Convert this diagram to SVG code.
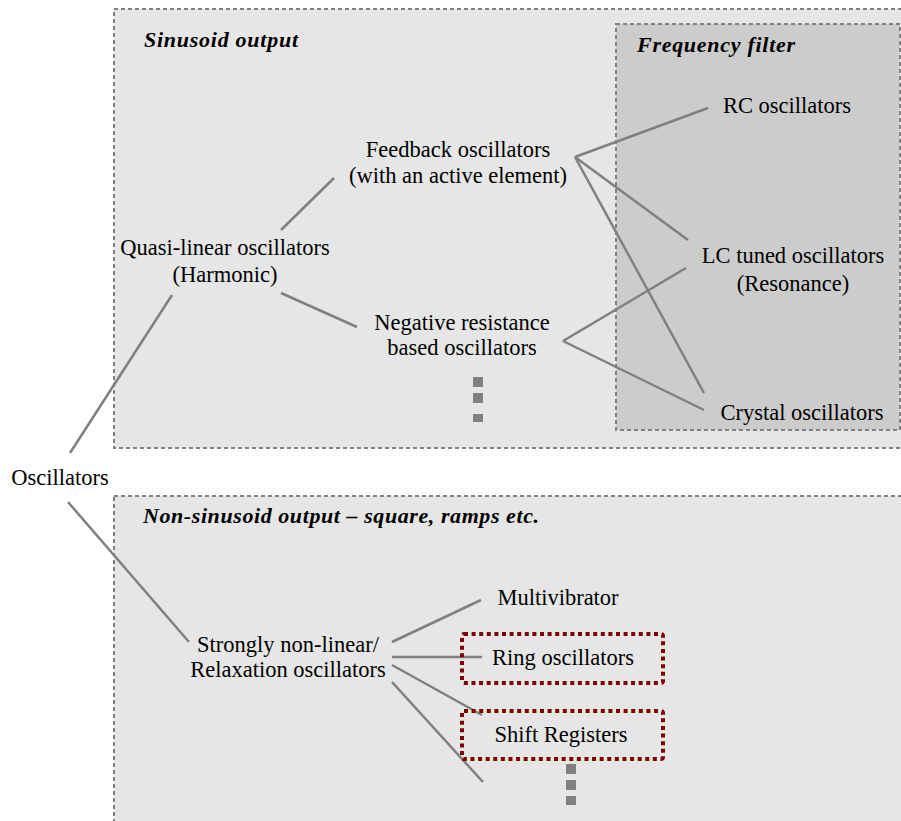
<svg xmlns="http://www.w3.org/2000/svg" width="901" height="821" viewBox="0 0 901 821">
<style>
.bg{fill:#e6e6e6;stroke:#808080;stroke-width:2;stroke-dasharray:4 3}
.ff{fill:#cccccc;stroke:#808080;stroke-width:2;stroke-dasharray:4 3}
.red{fill:none;stroke:#7f0000;stroke-width:4;stroke-dasharray:4 3.6}
.t{font-family:"Liberation Serif","Times New Roman",serif;font-size:22.5px;fill:#000;text-anchor:middle}
.h{font-family:"Liberation Serif","Times New Roman",serif;font-size:22px;font-weight:bold;font-style:italic;fill:#000}
.c line{stroke:#808080;stroke-width:2.5}
.dot{fill:#808080}
</style>
<rect width="901" height="821" fill="#ffffff"/>
<g id="sinusoid">
<rect class="bg" x="114" y="9" width="800" height="439"/>
<text class="h" x="144" y="47" textLength="154" lengthAdjust="spacing">Sinusoid output</text>
</g>
<g id="freqfilter">
<rect class="ff" x="616" y="24" width="284" height="406"/>
<text class="h" x="637" y="52" textLength="158" lengthAdjust="spacing">Frequency filter</text>
</g>
<g id="nonsinusoid">
<rect class="bg" x="114" y="496" width="800" height="340"/>
<text class="h" x="143" y="523" textLength="396" lengthAdjust="spacing">Non-sinusoid output – square, ramps etc.</text>
</g>
<g class="c" id="connectors">
<line x1="172" y1="295" x2="70" y2="453"/>
<line x1="68" y1="502" x2="189" y2="642"/>
<line x1="281" y1="230" x2="334" y2="178"/>
<line x1="281" y1="293" x2="357" y2="327"/>
<line x1="575" y1="157" x2="708" y2="108"/>
<line x1="575" y1="157" x2="688" y2="240"/>
<line x1="575" y1="157" x2="704" y2="393"/>
<line x1="563" y1="341" x2="686" y2="268"/>
<line x1="563" y1="341" x2="704" y2="410"/>
<line x1="392" y1="642" x2="481" y2="600"/>
<line x1="392" y1="657" x2="482" y2="657"/>
<line x1="392" y1="665" x2="482" y2="715"/>
<line x1="392" y1="682" x2="483" y2="782"/>
</g>
<g id="oscillators"><text class="t" x="60" y="485">Oscillators</text></g>
<g id="quasi"><text class="t" x="225" y="255">Quasi-linear oscillators</text><text class="t" x="225" y="282">(Harmonic)</text></g>
<g id="feedback"><text class="t" x="458" y="157">Feedback oscillators</text><text class="t" x="458" y="183">(with an active element)</text></g>
<g id="negative"><text class="t" x="462" y="330">Negative resistance</text><text class="t" x="462" y="355">based oscillators</text></g>
<g id="more1"><rect class="dot" x="473" y="377" width="10" height="10"/><rect class="dot" x="473" y="393" width="10" height="10"/><rect class="dot" x="473" y="414" width="10" height="8"/></g>
<g id="rc"><text class="t" x="787" y="113">RC oscillators</text></g>
<g id="lc"><text class="t" x="793" y="263">LC tuned oscillators</text><text class="t" x="793" y="291">(Resonance)</text></g>
<g id="crystal"><text class="t" x="802" y="420">Crystal oscillators</text></g>
<g id="strongly"><text class="t" x="288" y="652">Strongly non-linear/</text><text class="t" x="288" y="677">Relaxation oscillators</text></g>
<g id="multivibrator"><text class="t" x="558" y="605">Multivibrator</text></g>
<g id="ring"><rect class="red" x="462" y="634" width="201" height="49" rx="2"/><text class="t" x="563" y="665">Ring oscillators</text></g>
<g id="shift"><rect class="red" x="462" y="711" width="201" height="48" rx="2"/><text class="t" x="561" y="742">Shift Registers</text></g>
<g id="more2"><rect class="dot" x="566" y="764" width="10" height="10"/><rect class="dot" x="566" y="780" width="10" height="10"/><rect class="dot" x="566" y="796" width="10" height="9"/></g>
</svg>
